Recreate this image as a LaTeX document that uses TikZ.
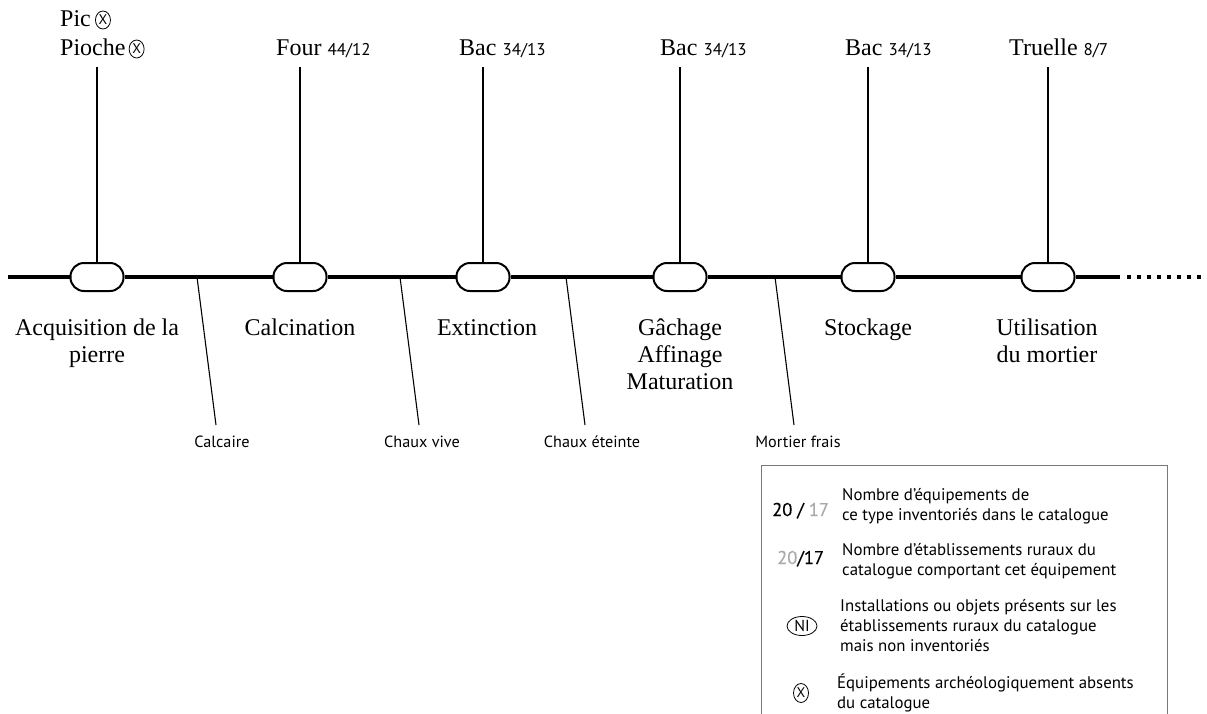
\documentclass[tikz,border=0pt]{standalone}
\usepackage{fontspec}
\setmainfont{Liberation Serif}
\newfontfamily\legfont{PT Sans}
\newfontfamily\numfont[FakeBold=0.5]{PT Sans}
\usetikzlibrary{shapes.geometric}
\newcommand\bigserif{\fontsize{24}{27}\selectfont}
\newcommand\numf{\legfont\fontsize{17}{17}\selectfont}
\newcommand\legf{\legfont\fontsize{16.8}{20}\selectfont}
\newcommand\smallsans{\legfont\fontsize{16.2}{16}\selectfont}
\definecolor{lightnum}{RGB}{170,170,170}
\definecolor{boxgray}{RGB}{120,120,120}
\begin{document}
\begin{tikzpicture}[x=1pt,y=-1pt,
  pill/.style={draw, line width=2pt, fill=white, rounded corners=13.5pt, minimum width=53pt, minimum height=28pt, inner sep=0pt},
  mainline/.style={line width=3.5pt},
  vline/.style={line width=2.3pt},
  diag/.style={line width=1.1pt},
  toplab/.style={anchor=base west, inner sep=0pt, font=\bigserif},
  steplab/.style={anchor=north, inner sep=0pt, align=center, font=\bigserif},
  prodlab/.style={anchor=base, inner sep=0pt, font=\smallsans},
  circx/.style={draw, ellipse, line width=0.8pt, minimum width=15pt, minimum height=18pt, inner sep=0pt, font=\legfont\fontsize{14}{14}\selectfont},
  legtext/.style={anchor=north west, inner sep=0pt, align=left, font=\legf},
  legnum/.style={anchor=base west, inner sep=0pt, font=\numfont\fontsize{18.5}{18.5}\selectfont}
]
\useasboundingbox (0,0) rectangle (1207,713);

% pills
\node[pill] (p1) at (97,277) {};
\node[pill] (p2) at (300,277) {};
\node[pill] (p3) at (483,277) {};
\node[pill] (p4) at (680,277) {};
\node[pill] (p5) at (868,277) {};
\node[pill] (p6) at (1048,277) {};

% main line
\coordinate (L0) at (8,277);
\coordinate (Lend) at (1120,277);
\coordinate (D0) at (1127,277);
\coordinate (D1) at (1204,277);
\draw[mainline] (L0) -- (p1) (p1) -- (p2) (p2) -- (p3) (p3) -- (p4) (p4) -- (p5) (p5) -- (p6) (p6) -- (Lend);
\draw[line width=3.2pt, dash pattern=on 4pt off 6pt] (D0) -- (D1);

% vertical lines
\coordinate (t1) at (97,67);
\coordinate (t2) at (300,67);
\coordinate (t3) at (483,67);
\coordinate (t4) at (680,67);
\coordinate (t5) at (868,67);
\coordinate (t6) at (1048,67);
\foreach \i in {1,...,6} \draw[vline] (t\i) -- (p\i.north);

% top labels
\node[toplab] (pic) at (60,26) {Pic};
\node[circx, anchor=west] (picx) at ([xshift=4pt, yshift=6pt]pic.base east) {X};
\node[toplab] (pioche) at (60,55) {Pioche};
\node[circx, anchor=west] (piochex) at ([xshift=3pt, yshift=6pt]pioche.base east) {X};
\node[toplab] (four) at (276,55) {Four {\numf 44/12}};
\node[toplab] (bac1) at (459,55) {Bac {\numf 34/13}};
\node[toplab] (bac2) at (660,55) {Bac {\numf 34/13}};
\node[toplab] (bac3) at (845,55) {Bac {\numf 34/13}};
\node[toplab] (truelle) at (1009,55) {Truelle {\numf 8/7}};

% step labels
\node[steplab] (s1) at (97,319) {Acquisition de la\\pierre};
\node[steplab] (s2) at (300,319) {Calcination};
\node[steplab] (s3) at (487,319) {Extinction};
\node[steplab] (s4) at (680,319) {Gâchage\\Affinage\\Maturation};
\node[steplab] (s5) at (868,319) {Stockage};
\node[steplab] (s6) at (1047,319) {Utilisation\\du mortier};

% products
\coordinate (a1) at (197,277); \coordinate (b1) at (216,425);
\coordinate (a2) at (400,277); \coordinate (b2) at (419,425);
\coordinate (a3) at (566,277); \coordinate (b3) at (585,425);
\coordinate (a4) at (775,277); \coordinate (b4) at (794,425);
\draw[diag] (a1) -- (b1);
\draw[diag] (a2) -- (b2);
\draw[diag] (a3) -- (b3);
\draw[diag] (a4) -- (b4);
\node[prodlab] (c1) at (222,447) {Calcaire};
\node[prodlab] (c2) at (422,447) {Chaux vive};
\node[prodlab] (c3) at (592,447) {Chaux éteinte};
\node[prodlab] (c4) at (798,447) {Mortier frais};

% legend
\draw[boxgray, line width=0.9pt] (761,720) -- (761,465) -- (1167,465) -- (1167,720);
\node[legnum] (n1) at (772,516) {20 / {\color{lightnum}17}};
\node[legtext] (l1) at (842,488) {Nombre d’équipements de\\ce type inventoriés dans le catalogue};
\node[legnum] (n2) at (777,564) {{\color{lightnum}20}/17};
\node[legtext] (l2) at (842,543) {Nombre d’établissements ruraux du\\catalogue comportant cet équipement};
\node[draw, ellipse, line width=0.8pt, minimum width=30pt, minimum height=19pt, inner sep=0pt, font=\legfont\fontsize{16}{16}\selectfont] (ni) at (802,626) {NI};
\node[legtext] (l3) at (840,599) {Installations ou objets présents sur les\\établissements ruraux du catalogue\\mais non inventoriés};
\node[circx, minimum height=19pt, minimum width=15pt] (lx) at (801,693) {X};
\node[legtext] (l4) at (837,674) {Équipements archéologiquement absents\\du catalogue};
\end{tikzpicture}
\end{document}
